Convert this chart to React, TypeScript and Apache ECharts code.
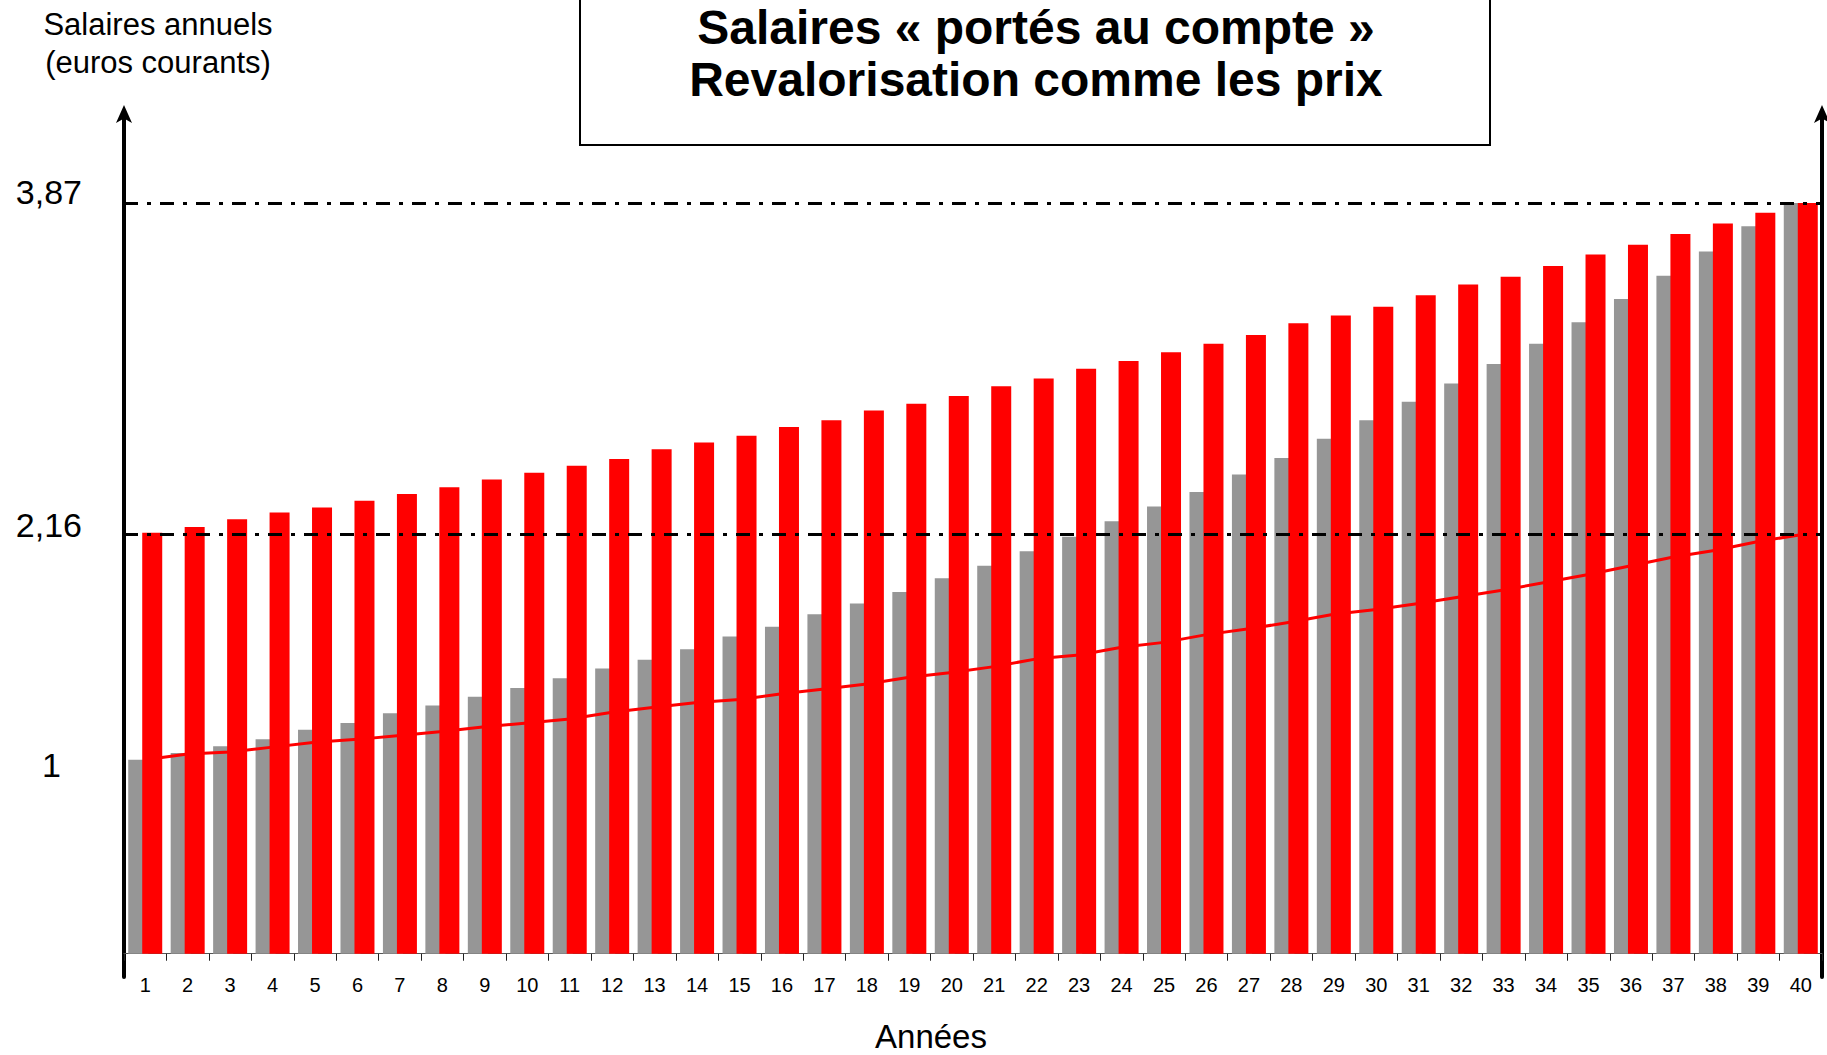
import React, { useEffect, useRef } from "react";
import * as echarts from "echarts";

const annees = [
  "1", "2", "3", "4", "5", "6", "7", "8", "9", "10",
  "11", "12", "13", "14", "15", "16", "17", "18", "19", "20",
  "21", "22", "23", "24", "25", "26", "27", "28", "29", "30",
  "31", "32", "33", "34", "35", "36", "37", "38", "39", "40",
];

// Salaires annuels en euros courants (barres grises)
const salairesCourants = [
  1.0, 1.035, 1.07, 1.105, 1.155, 1.19, 1.24, 1.28, 1.325, 1.37,
  1.42, 1.47, 1.515, 1.57, 1.635, 1.685, 1.75, 1.805, 1.865, 1.935,
  2.0, 2.075, 2.15, 2.23, 2.305, 2.38, 2.47, 2.555, 2.655, 2.75,
  2.845, 2.94, 3.04, 3.145, 3.255, 3.375, 3.495, 3.62, 3.75, 3.87,
];

// Salaires portés au compte, revalorisés comme les prix (barres rouges)
const salairesRevalorises = [
  2.17, 2.2, 2.24, 2.275, 2.3, 2.335, 2.37, 2.405, 2.445, 2.48,
  2.515, 2.55, 2.6, 2.635, 2.67, 2.715, 2.75, 2.8, 2.835, 2.875,
  2.925, 2.965, 3.015, 3.055, 3.1, 3.145, 3.19, 3.25, 3.29, 3.335,
  3.395, 3.45, 3.49, 3.545, 3.605, 3.655, 3.71, 3.765, 3.82, 3.87,
];

// Indice des prix (courbe rouge)
const indicePrix = [
  1.0, 1.03, 1.04, 1.065, 1.09, 1.105, 1.125, 1.145, 1.17, 1.19,
  1.21, 1.245, 1.27, 1.295, 1.31, 1.34, 1.365, 1.39, 1.425, 1.45,
  1.48, 1.52, 1.54, 1.58, 1.605, 1.645, 1.675, 1.71, 1.75, 1.775,
  1.805, 1.84, 1.875, 1.915, 1.955, 2.0, 2.045, 2.08, 2.125, 2.16,
];

const yTickValues = [1, 2.16, 3.87];
const yTickLabels = ["1", "2,16", "3,87"];
const refLines = [3.87, 2.16];

const FONT = "'Liberation Sans', Arial, Helvetica, sans-serif";

export default function App() {
  const ref = useRef<HTMLDivElement>(null);

  useEffect(() => {
    if (!ref.current) return;
    const chart = echarts.init(ref.current, null, { renderer: "svg" });

    const labelFormatter = (v: number) => {
      const idx = yTickValues.findIndex((t) => Math.abs(t - v) < 1e-6);
      if (idx < 0) return "";
      const txt = yTickLabels[idx];
      if (idx === 0) return "{one|" + txt + "}";
      if (idx === 1) return "{mid|" + txt + "}";
      return "{top|" + txt + "}";
    };

    const arrowLine = {
      show: true,
      onZero: false,
      symbol: ["none", "arrow"],
      symbolSize: [12, 18],
      symbolOffset: [0, 8],
      lineStyle: { color: "#000", width: 4 },
    };

    chart.setOption({
      animation: false,
      backgroundColor: "#fff",
      textStyle: { fontFamily: FONT },
      grid: { left: 124, right: 5, top: 113, bottom: 78, containLabel: false },
      xAxis: {
        type: "category",
        data: annees,
        boundaryGap: true,
        axisLine: {
          show: true,
          onZero: true,
          onZeroAxisIndex: 0,
          lineStyle: { color: "#555", width: 1 },
        },
        axisTick: { show: true, interval: 0, length: 7, lineStyle: { color: "#222", width: 1 } },
        axisLabel: { interval: 0, fontSize: 20, color: "#000", margin: -2, fontFamily: FONT },
        splitLine: { show: false },
      },
      yAxis: [
        {
          type: "value",
          min: -0.12,
          max: 4.334,
          position: "left",
          axisLine: arrowLine,
          axisTick: { show: false },
          splitLine: { show: false },
          axisLabel: {
            show: true,
            customValues: yTickValues,
            formatter: labelFormatter,
            margin: 42,
            color: "#000",
            fontFamily: FONT,
            rich: {
              top: { fontSize: 34, color: "#000", fontFamily: FONT, padding: [0, 0, 22, 0] },
              mid: { fontSize: 34, color: "#000", fontFamily: FONT, padding: [0, 0, 20, 0] },
              one: { fontSize: 34, color: "#000", fontFamily: FONT, padding: [10, 21, 0, 0] },
            },
          },
        },
        {
          type: "value",
          min: -0.12,
          max: 4.334,
          position: "right",
          axisLine: arrowLine,
          axisTick: { show: false },
          splitLine: { show: false },
          axisLabel: { show: false },
        },
      ],
      series: [
        {
          name: "Salaires en euros courants",
          type: "bar",
          data: salairesCourants,
          barWidth: 20,
          barGap: "-30%",
          itemStyle: { color: "#969696" },
          yAxisIndex: 0,
        },
        {
          name: "Salaires revalorisés comme les prix",
          type: "bar",
          data: salairesRevalorises,
          barWidth: 20,
          barGap: "-30%",
          itemStyle: { color: "#ff0000" },
          yAxisIndex: 0,
        },
        {
          name: "Prix",
          type: "line",
          data: indicePrix,
          yAxisIndex: 0,
          showSymbol: false,
          symbol: "none",
          lineStyle: { color: "#ff0000", width: 3 },
          z: 3,
          markLine: {
            silent: true,
            symbol: ["none", "none"],
            label: { show: false },
            lineStyle: { color: "#000", width: 3, type: [14, 9, 4, 9], opacity: 1 },
            data: refLines.map((v) => ({ yAxis: v })),
          },
        },
      ],
      graphic: [
        {
          type: "rect",
          shape: { x: 580, y: -3, width: 910, height: 148 },
          style: { fill: "none", stroke: "#000", lineWidth: 2 },
          silent: true,
        },
        {
          type: "text",
          x: 1036,
          y: 27,
          style: {
            text: "Salaires « portés au compte »",
            font: "bold 48px " + FONT,
            fill: "#000",
            textAlign: "center",
            textVerticalAlign: "middle",
          },
        },
        {
          type: "text",
          x: 1036,
          y: 79,
          style: {
            text: "Revalorisation comme les prix",
            font: "bold 48px " + FONT,
            fill: "#000",
            textAlign: "center",
            textVerticalAlign: "middle",
          },
        },
        {
          type: "text",
          x: 158,
          y: 24,
          style: {
            text: "Salaires annuels",
            font: "31px " + FONT,
            fill: "#000",
            textAlign: "center",
            textVerticalAlign: "middle",
          },
        },
        {
          type: "text",
          x: 158,
          y: 62,
          style: {
            text: "(euros courants)",
            font: "31px " + FONT,
            fill: "#000",
            textAlign: "center",
            textVerticalAlign: "middle",
          },
        },
        {
          type: "text",
          x: 931,
          y: 1036,
          style: {
            text: "Années",
            font: "33px " + FONT,
            fill: "#000",
            textAlign: "center",
            textVerticalAlign: "middle",
          },
        },
      ],
    });

    return () => chart.dispose();
  }, []);

  return (
    <div
      ref={ref}
      style={{ position: "absolute", left: 0, top: 0, width: 1827, height: 1055 }}
    />
  );
}
